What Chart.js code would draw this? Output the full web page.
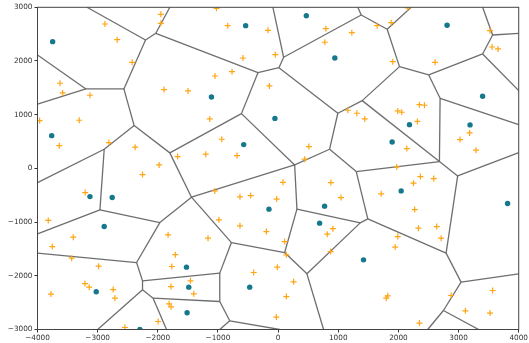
<!DOCTYPE html>
<html>
<head>
<meta charset="utf-8">
<script src="https://cdn.jsdelivr.net/npm/chart.js@4/dist/chart.umd.min.js"></script>
<style>
  html, body { margin: 0; padding: 0; background: #fff; }
  #wrap { width: 529px; height: 343px; }
</style>
</head>
<body>
<div id="wrap"><canvas id="c" width="529" height="343"></canvas></div>
<script>
// Cluster centres (teal dots)
const centers = [
  [-3748, 2360], [-539, 2658], [469, 2844], [943, 2056], [2809, 2665],
  [-1108, 1331], [-53, 931], [-572, 443], [-3764, 610], [-3128, -525],
  [-2758, -543], [-2891, -1083], [773, -703], [-152, -759], [690, -1020],
  [1420, -1703], [1896, 493], [2184, 815], [2046, -419], [3191, 810],
  [3400, 1344], [3815, -655], [-1523, -1839], [-1485, -2211], [-1513, -2689],
  [-3024, -2298], [-2298, -3000], [-472, -2211]
];

// Sample points (orange crosses)
const samples = [
  [-1950, 2870], [-1950, 2702], [-2879, 2689], [-2675, 2397], [-2426, 1976],
  [-3626, 1586], [-3582, 1405], [-3128, 1362], [-1895, 1467], [-3306, 897],
  [-1025, 2981], [-838, 2658], [-169, 2572], [794, 2602], [777, 2349],
  [-46, 2118], [-584, 2056], [-766, 1802], [-1049, 1721], [-1497, 1442],
  [-145, 1535], [-1136, 921], [1159, 1083], [2155, 2990], [1226, 2527],
  [1647, 2658], [1880, 2713], [1906, 1988], [2610, 1976], [3523, 2565],
  [3556, 2261], [3656, 2224], [1309, 1027], [1441, 921], [1989, 1070],
  [2056, 1046], [2316, 875], [2350, 1187], [2433, 1176], [-3965, 890],
  [-3638, 424], [-2813, 480], [-2377, 395], [-1978, 65], [-2254, -115],
  [-1671, 220], [-3207, -450], [-3821, -968], [-937, 543], [-1203, 264],
  [-683, 238], [512, 406], [441, 171], [80, -260], [-1053, -419],
  [-634, -530], [-456, -506], [-24, -571], [877, -264], [1046, -543],
  [-984, -958], [-634, -1070], [910, -1122], [2139, 369], [3025, 536],
  [3184, 661], [3291, 339], [1973, 28], [2366, -153], [2250, -275],
  [2587, -190], [1714, -474], [2271, -767], [2333, -1113], [2637, -1083],
  [-3406, -1280], [-3754, -1455], [-3432, -1671], [-2984, -1820], [-3211, -2144],
  [-3140, -2211], [-3776, -2341], [-2742, -2256], [-2713, -2416], [-2547, -2963],
  [-1829, -1237], [-1709, -1606], [-1767, -1827], [-1781, -2200], [-1812, -2522],
  [-1779, -2577], [-1995, -2851], [-195, -1176], [-1165, -1299], [-1457, -2094],
  [-1402, -2335], [-406, -1939], [-13, -1839], [258, -2112], [137, -2386],
  [-29, -2769], [109, -1362], [137, -1610], [817, -1224], [872, -1548],
  [1989, -1269], [2710, -1299], [1946, -1466], [3566, -2274], [2876, -2367],
  [1823, -2373], [1797, -2416], [3113, -2652], [3523, -2695], [2350, -2881]
];

// Cell boundary vertices
const ridgeVertices = [
  [-3178, 3000], [-2204, 2391], [-2033, 2516], [-1800, 3000], [-335, 1783],
  [-2564, 1480], [-3195, 1480], [-4000, 2112], [-4000, 1195], [-2393, 797],
  [-2891, 357], [-1800, 289], [-4000, -264], [-2962, -772], [-4000, -1219],
  [-1966, -1009], [-610, 1020], [-1440, -536], [275, 65], [-776, -1381],
  [14, 1876], [92, 2069], [-86, 3000], [1382, 2857], [993, 1027],
  [1398, 1262], [856, 357], [313, -759], [1299, -59], [1325, 3000],
  [1813, 2591], [2212, 3000], [2018, 1895], [2504, 1740], [3400, 2131],
  [2693, 1306], [3566, 2484], [3400, 3000], [4000, 2516], [4000, 1448],
  [2682, 127], [4000, 815], [2985, -140], [4000, 294], [1491, -940],
  [1365, -1014], [2793, -1578], [109, -1567], [479, -1963], [756, -3000],
  [3042, -2118], [4000, -1963], [2748, -2646], [2487, -3000], [3334, -3000],
  [-970, -1950], [-2254, -2094], [-970, -2479], [-2078, -2416], [-804, -2838],
  [26, -3000], [-970, -3000], [-2353, -1753], [-4000, -1578], [-2254, -2261],
  [-3000, -3000], [-1855, -3000]
];

// Cell boundary segments (1-based vertex numbers)
const ridgeEdges = [
  [1,2],[2,3],[3,4],[3,5],[2,6],[6,7],[7,8],[7,9],[6,10],[10,11],
  [10,12],[11,13],[11,14],[14,15],[14,16],[12,17],[12,18],[18,16],[18,19],[18,20],
  [17,5],[17,19],[5,21],[21,22],[22,23],[22,24],[21,25],[25,26],[25,27],[19,27],
  [19,28],[27,29],[24,30],[24,31],[31,32],[31,33],[33,26],[33,34],[34,35],[34,36],
  [35,37],[37,38],[37,39],[35,40],[36,41],[36,42],[26,41],[41,29],[41,43],[43,44],
  [43,47],[29,45],[28,46],[45,46],[28,48],[48,20],[48,49],[49,46],[49,50],[45,47],
  [47,51],[51,52],[51,53],[53,54],[53,55],[20,56],[56,57],[56,58],[58,59],[58,60],
  [60,61],[60,62],[16,63],[63,64],[63,57],[57,65],[65,66],[65,59],[59,67]
];

const xTicks = [-4000, -3000, -2000, -1000, 0, 1000, 2000, 3000, 4000];
const yTicks = [-3000, -2000, -1000, 0, 1000, 2000, 3000];

const toPt = p => ({ x: p[0], y: p[1] });

const ridgeSets = ridgeEdges.map(([a, b]) => ({
  type: 'line',
  data: [toPt(ridgeVertices[a - 1]), toPt(ridgeVertices[b - 1])],
  borderColor: 'rgba(85,85,85,0.85)',
  borderWidth: 1.3,
  pointRadius: 0,
  fill: false,
  tension: 0,
  order: 3
}));

const frame = {
  id: 'frame',
  afterDatasetsDraw(chart) {
    const { ctx, chartArea: a } = chart;
    ctx.save();
    ctx.strokeStyle = '#444';
    ctx.lineWidth = 1;
    ctx.strokeRect(a.left, a.top, a.right - a.left, a.bottom - a.top);
    ctx.restore();
  }
};

const fmt = v => (v < 0 ? '\u2212' + Math.abs(v) : String(v));
const tickFont = { family: 'DejaVu Sans', size: 7.3 };

new Chart(document.getElementById('c'), {
  type: 'scatter',
  data: {
    datasets: [
      {
        type: 'scatter',
        data: centers.map(toPt),
        backgroundColor: '#15788c',
        borderColor: '#15788c',
        pointRadius: 2.7,
        pointHoverRadius: 2.7,
        borderWidth: 0,
        order: 1
      },
      {
        type: 'scatter',
        data: samples.map(toPt),
        pointStyle: 'cross',
        borderColor: '#ffa514',
        backgroundColor: '#ffa514',
        pointRadius: 3,
        pointHoverRadius: 3,
        borderWidth: 1.2,
        order: 2
      },
      ...ridgeSets
    ]
  },
  options: {
    responsive: false,
    animation: false,
    devicePixelRatio: 1,
    events: [],
    layout: { padding: { top: 7.3, right: 9.7, left: 0, bottom: 0 } },
    plugins: { legend: { display: false }, tooltip: { enabled: false } },
    scales: {
      x: {
        type: 'linear',
        min: -4000, max: 4000,
        afterBuildTicks: s => { s.ticks = xTicks.map(v => ({ value: v })); },
        afterFit: s => { s.height = 13.5; },
        ticks: { callback: fmt, font: tickFont, color: '#333', padding: 1, maxRotation: 0 },
        grid: { drawOnChartArea: false, drawTicks: true, tickLength: 3, color: '#333' },
        border: { display: true, color: '#333' }
      },
      y: {
        type: 'linear',
        min: -3000, max: 3000,
        afterBuildTicks: s => { s.ticks = yTicks.map(v => ({ value: v })); },
        afterFit: s => { s.width = 37.5; },
        ticks: { callback: fmt, font: tickFont, color: '#333', padding: 2 },
        grid: { drawOnChartArea: false, drawTicks: true, tickLength: 3, color: '#333' },
        border: { display: true, color: '#333' }
      }
    }
  },
  plugins: [frame]
});
</script>
</body>
</html>
